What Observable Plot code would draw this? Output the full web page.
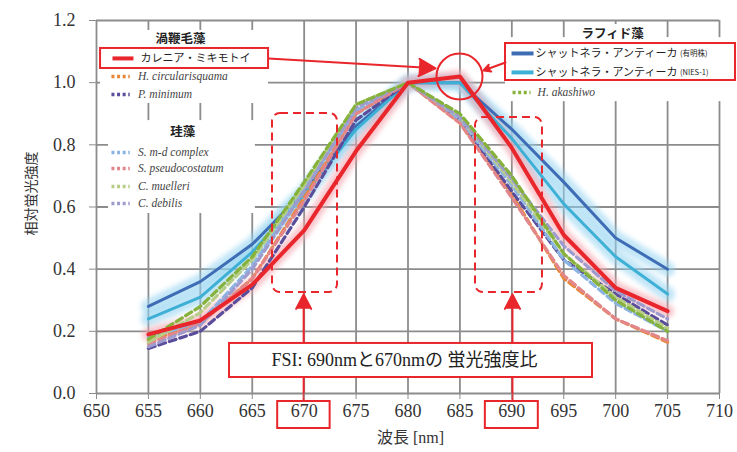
<!DOCTYPE html>
<html><head><meta charset="utf-8">
<script src="https://cdn.jsdelivr.net/npm/d3@7"></script>
<script src="https://cdn.jsdelivr.net/npm/@observablehq/plot@0.6"></script>
<style>body{margin:0;background:#fff}#chart svg{display:block}</style>
</head><body><div id="chart"></div>
<script>
// ---- data ----
const wavelengths = [655, 660, 665, 670, 675, 680, 685, 690, 695, 700, 705];
const xTicks = [650, 655, 660, 665, 670, 675, 680, 685, 690, 695, 700, 705, 710];
const yTicks = [0, 0.2, 0.4, 0.6, 0.8, 1.0, 1.2];

const seriesNames = ["カレニア・ミキモトイ", "H. circularisquama", "P. minimum", "S. m-d complex", "S. pseudocostatum", "C. muelleri", "C. debilis", "シャットネラ・アンティーカ(有明株)", "シャットネラ・アンティーカ(NIES-1)", "H. akashiwo"];
const karenia    = [0.19, 0.235, 0.35, 0.525, 0.78, 1.00, 1.02, 0.79, 0.51, 0.34, 0.265];
const hCirc      = [0.17, 0.225, 0.37, 0.63, 0.90, 1.00, 0.87, 0.64, 0.37, 0.24, 0.165];
const pMin       = [0.145, 0.20, 0.34, 0.60, 0.88, 1.00, 0.88, 0.65, 0.43, 0.32, 0.22];
const smd        = [0.18, 0.23, 0.41, 0.66, 0.91, 1.00, 0.88, 0.67, 0.43, 0.29, 0.20];
const sPseudo    = [0.16, 0.225, 0.37, 0.62, 0.90, 1.00, 0.87, 0.63, 0.38, 0.24, 0.17];
const cMuelleri  = [0.165, 0.26, 0.43, 0.67, 0.93, 1.00, 0.89, 0.68, 0.45, 0.31, 0.21];
const cDebilis   = [0.15, 0.22, 0.40, 0.65, 0.92, 1.00, 0.89, 0.69, 0.475, 0.33, 0.24];
const chatAriake = [0.28, 0.36, 0.48, 0.65, 0.86, 1.00, 1.00, 0.85, 0.68, 0.50, 0.40];
const chatNies   = [0.24, 0.31, 0.455, 0.64, 0.85, 1.00, 1.00, 0.82, 0.61, 0.44, 0.32];
const hAkashiwo  = [0.175, 0.28, 0.44, 0.68, 0.93, 1.00, 0.90, 0.70, 0.45, 0.30, 0.20];
const seriesValues = [karenia, hCirc, pMin, smd, sPseudo, cMuelleri, cDebilis, chatAriake, chatNies, hAkashiwo];

const groupTitles = ["渦鞭毛藻", "珪藻", "ラフィド藻"];
const legendMain = ["カレニア・ミキモトイ", "H. circularisquama", "P. minimum", "S. m-d complex", "S. pseudocostatum", "C. muelleri", "C. debilis", "シャットネラ・アンティーカ", "シャットネラ・アンティーカ", "H. akashiwo"];
const legendSuffix = ["(有明株)", "(NIES-1)"];
const fsiText = "FSI: 690nmと670nmの 蛍光強度比";
const xLabel = "波長 [nm]";
const yLabel = "相対蛍光強度";

// ---- styling ----
const seriesColors = ["#e8262b", "#e8883a", "#5a4d9c", "#8cb4e2", "#e3868c", "#b8ce88", "#9e9cce", "#3e6db6", "#3fb0d5", "#86b23b"];
const RED = "#e8262b", GRID = "#8c8c8c";
const dashedIdx = [1, 2, 3, 4, 5, 6, 9];
const blueIdx = [7, 8];

const rows = seriesNames.flatMap((s, i) => wavelengths.map((w, j) => ({series: s, wl: w, v: seriesValues[i][j]})));
const pick = idx => rows.filter(r => idx.includes(seriesNames.indexOf(r.series)));

// ---- annotation layout (data units) ----
const leftRows = [
  {i: 0, y: 1.078, solid: true}, {i: 1, y: 1.020}, {i: 2, y: 0.962},
  {i: 3, y: 0.775}, {i: 4, y: 0.724}, {i: 5, y: 0.666}, {i: 6, y: 0.611}
];
const rightRows = [{i: 7, y: 1.094, solid: true, s: 0}, {i: 8, y: 1.033, solid: true, s: 1}, {i: 9, y: 0.968}];
const titlePos = [{x: 658.1, y: 1.139}, {x: 658.3, y: 0.840}, {x: 699.7, y: 1.158}];
const whiteBlocks = [
  {x1: 650.39, x2: 666.57, y1: 1.168, y2: 0.933},
  {x1: 651.16, x2: 665.3, y1: 0.878, y2: 0.579},
  {x1: 689.39, x2: 711.7, y1: 1.145, y2: 0.939},
  {x1: 696.9, x2: 702.9, y1: 1.187, y2: 1.1325}
];
const legendBoxes = [
  {x1: 650.39, x2: 666.57, y1: 1.110, y2: 1.0456},
  {x1: 689.39, x2: 711.54, y1: 1.126, y2: 1.007}
];
const dashedBoxes = [
  {x1: 666.95, x2: 673.21, y1: 0.901, y2: 0.325},
  {x1: 686.5, x2: 692.95, y1: 0.888, y2: 0.325}
];
const pointerArrows = [
  {x1: 666.57, y1: 1.078, x2: 682.65, y2: 1.046},
  {x1: 689.39, y1: 1.065, x2: 687.27, y2: 1.039},
  {x1: 669.95, y1: 0.161, x2: 669.95, y2: 0.319},
  {x1: 690.06, y1: 0.161, x2: 690.06, y2: 0.319}
];
const peakCircle = [{x: 684.96, y: 1.020}];
const fsiBox = [{x1: 662.81, x2: 697.77, y1: 0.161, y2: 0.0515}];
const fsiPos = [{x: 679.66, y: 0.106}];
const connectors = [{x: 669.95, y1: 0.0515, y2: -0.0257}, {x: 690.06, y1: 0.0515, y2: -0.0257}];
const tickBoxes = [
  {x1: 667.45, x2: 672.5, y1: -0.0257, y2: -0.1126},
  {x1: 687.45, x2: 692.55, y1: -0.0257, y2: -0.1126}
];

const sans = "'Noto Sans CJK JP', 'Noto Sans', sans-serif";
const serif = "'Liberation Serif', 'Noto Sans CJK JP', serif";

const solidSamples = [...leftRows.filter(d => d.solid).map(d => ({...d, x1: 651.54, x2: 653.56})), ...rightRows.filter(d => d.solid).map(d => ({...d, x1: 689.97, x2: 692.09}))];
const dotSamples = [...leftRows.filter(d => !d.solid).map(d => ({...d, x1: 651.44, x2: 653.2})), ...rightRows.filter(d => !d.solid).map(d => ({...d, x1: 690.07, x2: 691.8}))];

const chart = Plot.plot({
  width: 737, height: 452,
  marginLeft: 96, marginRight: 18, marginTop: 20, marginBottom: 59,
  x: {domain: [650, 710]},
  y: {domain: [0, 1.2]},
  color: {domain: seriesNames, range: seriesColors},
  style: {background: "#fff", fontFamily: serif, color: "#333"},
  marks: [
    Plot.ruleX(xTicks, {stroke: GRID, strokeWidth: 1.8}),
    Plot.ruleY(yTicks, {stroke: GRID, strokeWidth: 1.8}),
    // halos
    Plot.line(pick(blueIdx), {x: "wl", y: "v", z: "series", stroke: "#8fd2f0", strokeWidth: 15, strokeOpacity: 0.55, ariaDescription: "halo"}),
    Plot.line(pick([0]), {x: "wl", y: "v", z: "series", stroke: "#f5a0aa", strokeWidth: 13, strokeOpacity: 0.6, ariaDescription: "halo"}),
    // series
    Plot.line(pick(blueIdx), {x: "wl", y: "v", z: "series", stroke: "series", strokeWidth: 3}),
    Plot.line(pick(dashedIdx), {x: "wl", y: "v", z: "series", stroke: "series", strokeWidth: 3.2, strokeDasharray: "7,4"}),
    Plot.line(pick([0]), {x: "wl", y: "v", z: "series", stroke: "series", strokeWidth: 4}),
    // legend backgrounds
    Plot.rect(whiteBlocks, {x1: "x1", x2: "x2", y1: "y1", y2: "y2", fill: "#fff"}),
    Plot.text(groupTitles, {x: (d, i) => titlePos[i].x, y: (d, i) => titlePos[i].y, text: d => d, fontFamily: sans, fontWeight: "bold", fontSize: 12.5, fill: "#222"}),
    Plot.rect(legendBoxes, {x1: "x1", x2: "x2", y1: "y1", y2: "y2", fill: "none", stroke: RED, strokeWidth: 2}),
    // legend samples
    Plot.link(solidSamples, {x1: "x1", x2: "x2", y1: "y", y2: "y", stroke: d => seriesNames[d.i], strokeWidth: 4}),
    Plot.link(dotSamples, {x1: "x1", x2: "x2", y1: "y", y2: "y", stroke: d => seriesNames[d.i], strokeWidth: 3.5, strokeDasharray: "3,2.6"}),
    // left legend
    Plot.text(leftRows.filter(d => d.solid), {x: 654.24, y: "y", text: d => legendMain[d.i], textAnchor: "start", fontFamily: sans, fontSize: 11, fill: "#222"}),
    Plot.text(leftRows.filter(d => !d.solid), {x: 654.0, y: "y", text: d => legendMain[d.i], textAnchor: "start", fontFamily: serif, fontStyle: "italic", fontSize: 11.5, fill: "#444"}),
    // right legend
    Plot.text(rightRows.filter(d => d.solid), {x: 692.28, y: "y", text: d => legendMain[d.i], textAnchor: "start", fontFamily: sans, fontSize: 11, fill: "#222"}),
    Plot.text(rightRows.filter(d => d.solid), {x: 706.2, y: "y", text: d => legendSuffix[d.s], textAnchor: "start", fontFamily: sans, fontSize: 7.5, fill: "#222"}),
    Plot.text(rightRows.filter(d => !d.solid), {x: 692.48, y: "y", text: d => legendMain[d.i], textAnchor: "start", fontFamily: serif, fontStyle: "italic", fontSize: 11.5, fill: "#444"}),
    // annotations
    Plot.rect(dashedBoxes, {x1: "x1", x2: "x2", y1: "y1", y2: "y2", fill: "none", stroke: RED, strokeWidth: 2, strokeDasharray: "8,5", rx: 8}),
    Plot.dot(peakCircle, {x: "x", y: "y", r: 23, stroke: RED, strokeWidth: 2, fill: "none"}),
    Plot.arrow(pointerArrows, {x1: "x1", y1: "y1", x2: "x2", y2: "y2", stroke: RED, fill: RED, strokeWidth: 2, headLength: 14, headAngle: 55}),
    Plot.rect(fsiBox, {x1: "x1", x2: "x2", y1: "y1", y2: "y2", fill: "#fff", stroke: RED, strokeWidth: 2}),
    Plot.text(fsiPos, {x: "x", y: "y", text: () => fsiText, fontFamily: serif, fontSize: 18, fill: "#222"}),
    Plot.link(connectors, {x1: "x", x2: "x", y1: "y1", y2: "y2", stroke: RED, strokeWidth: 2}),
    Plot.rect(tickBoxes, {x1: "x1", x2: "x2", y1: "y1", y2: "y2", fill: "none", stroke: RED, strokeWidth: 2}),
    // axes
    Plot.axisY(yTicks, {tickFormat: d => d.toFixed(1), tickSize: 7, tickPadding: 14, fontSize: 18, stroke: GRID, fill: "#333", label: null, fontFamily: serif}),
    Plot.axisX(xTicks, {tickFormat: d => String(d), tickSize: 6, tickPadding: 5, fontSize: 18, stroke: GRID, fill: "#333", label: null, fontFamily: serif}),
    Plot.text([xLabel], {x: 680.24, y: -0.1416, text: d => d, fontFamily: serif, fontSize: 16, fill: "#333"}),
    Plot.text([yLabel], {x: 643.74, y: 0.6435, text: d => d, rotate: -90, fontFamily: sans, fontSize: 14, fill: "#333"})
  ]
});
chart.querySelectorAll('[aria-description="halo"]').forEach(g => { g.style.filter = "blur(2.5px)"; });
document.getElementById("chart").append(chart);
</script></body></html>
